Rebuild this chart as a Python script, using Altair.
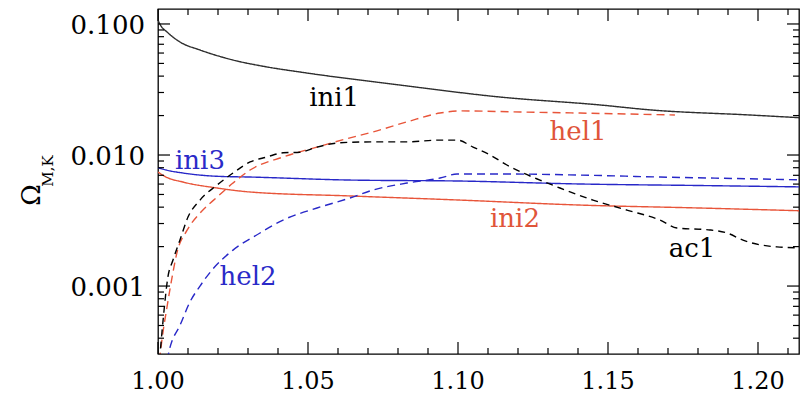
import altair as alt
import pandas as pd

# ---------------- data ----------------
x_ini1 = [1.000, 1.001, 1.003, 1.0073, 1.014, 1.025, 1.0363, 1.0473, 1.0807, 1.114, 1.1473, 1.164, 1.1973, 1.2167]
y_ini1 = [0.107, 0.0965, 0.0869, 0.0729, 0.0633, 0.0531, 0.0470, 0.0430, 0.0342, 0.0277, 0.0241, 0.0221, 0.0202, 0.0191]

x_ini23 = [1.000, 1.0027, 1.0083, 1.0197, 1.0307, 1.064, 1.1007, 1.1407, 1.1807, 1.2167]
y_ini2 = [0.00741, 0.00679, 0.00622, 0.00560, 0.00522, 0.00487, 0.00453, 0.00415, 0.00394, 0.00374]
y_ini3 = [0.0080, 0.00768, 0.00729, 0.00688, 0.00679, 0.00644, 0.00633, 0.00601, 0.00585, 0.00570]

x_hel1 = [1.0005, 1.0013, 1.003, 1.0047, 1.0063, 1.0097, 1.014, 1.0197, 1.025, 1.0307, 1.0417, 1.053,
          1.0623, 1.0717, 1.083, 1.094, 1.1007, 1.1207, 1.1407, 1.1723]
y_hel1 = [0.00027, 0.000387, 0.000692, 0.00117, 0.00179, 0.00267, 0.00360, 0.00478, 0.00611, 0.00768, 0.00966,
          0.0115, 0.0132, 0.0150, 0.0179, 0.0209, 0.0217, 0.0213, 0.0209, 0.0202]

x_ac1 = [1.0005, 1.0017, 1.0033, 1.005, 1.0073, 1.01, 1.014, 1.0197, 1.025, 1.0307, 1.0363, 1.0417, 1.0473,
         1.053, 1.0607, 1.0717, 1.083, 1.094, 1.0997, 1.105, 1.1107, 1.1163, 1.1217, 1.1273, 1.134, 1.145,
         1.1563, 1.1673, 1.173, 1.184, 1.1897, 1.195, 1.2063, 1.2167]
y_ac1 = [0.00027, 0.000550, 0.00117, 0.00158, 0.00224, 0.00336, 0.00453, 0.00590, 0.00729, 0.00885, 0.00966,
         0.0104, 0.0105, 0.0115, 0.0124, 0.0126, 0.0126, 0.0130, 0.0130, 0.0115, 0.0100, 0.00839, 0.00729,
         0.00644, 0.00560, 0.00453, 0.00380, 0.00319, 0.00277, 0.00268, 0.00254, 0.00224, 0.00199, 0.00195]

x_hel2 = [1.0030, 1.004, 1.0073, 1.0107, 1.014, 1.0183, 1.025, 1.034, 1.0417, 1.053, 1.064, 1.0717, 1.083,
          1.094, 1.0997, 1.1163, 1.1407, 1.1673, 1.2007, 1.2167]
y_hel2 = [0.00027, 0.00034, 0.00050, 0.00076, 0.00100, 0.00135, 0.00188, 0.00254, 0.00319, 0.00394, 0.00470,
          0.00541, 0.00611, 0.00667, 0.00716, 0.00716, 0.00703, 0.00679, 0.00656, 0.00644]

series_names = ["ini1", "ini2", "ini3", "hel1", "hel2", "ac1"]
series_colors = ["#2e2e2e", "#e8553a", "#2828c8", "#e8553a", "#2828c8", "#000000"]
series_dash = [[1, 0], [1, 0], [1, 0], [8, 5], [8, 5], [7, 5]]

label_text = ["ini1", "hel1", "ini3", "ini2", "ac1", "hel2"]
label_x = [1.0587, 1.1400, 1.0140, 1.1190, 1.1780, 1.0300]
label_y = [0.0272, 0.0150, 0.0090, 0.00324, 0.00191, 0.00117]
label_color = ["#000000", "#e0553a", "#2a2ac8", "#e0553a", "#000000", "#2a2ac8"]

x_major = [1.00, 1.05, 1.10, 1.15, 1.20]
x_major_text = ["1.00", "1.05", "1.10", "1.15", "1.20"]
x_minor = [1.01, 1.02, 1.03, 1.04, 1.06, 1.07, 1.08, 1.09, 1.11, 1.12, 1.13, 1.14, 1.16, 1.17, 1.18, 1.19, 1.21]
y_major = [0.1, 0.01, 0.001]
y_major_text = ["0.100", "0.010", "0.001"]
y_minor = [0.0004, 0.0005, 0.0006, 0.0007, 0.0008, 0.0009,
           0.002, 0.003, 0.004, 0.005, 0.006, 0.007, 0.008, 0.009,
           0.02, 0.03, 0.04, 0.05, 0.06, 0.07, 0.08, 0.09]

# ---------------- layout ----------------
W, H = 641, 345
FONT = "DejaVu Serif"

xs = alt.Scale(domain=[1.0, 1.0 + W / 3000.0], nice=False, zero=False)
ys = alt.Scale(type="log", domain=[0.000303, 0.1301], nice=False)

rows = []
for name, xv, yv in [("ini1", x_ini1, y_ini1), ("ini2", x_ini23, y_ini2), ("ini3", x_ini23, y_ini3),
                     ("hel1", x_hel1, y_hel1), ("hel2", x_hel2, y_hel2), ("ac1", x_ac1, y_ac1)]:
    for i, (a, b) in enumerate(zip(xv, yv)):
        rows.append({"series": name, "x": a, "y": b, "i": i})
df = pd.DataFrame(rows)

lines = alt.Chart(df).mark_line(clip=True, strokeWidth=1.4, interpolate="monotone").encode(
    x=alt.X("x:Q", scale=xs, axis=None),
    y=alt.Y("y:Q", scale=ys, axis=None),
    color=alt.Color("series:N", scale=alt.Scale(domain=series_names, range=series_colors), legend=None),
    strokeDash=alt.StrokeDash("series:N", scale=alt.Scale(domain=series_names, range=series_dash), legend=None),
    order="i:Q",
)

labels = alt.Chart(pd.DataFrame({"t": label_text, "x": label_x, "y": label_y, "c": label_color})).mark_text(
    font=FONT, fontSize=26, align="center", baseline="middle"
).encode(
    x=alt.X("x:Q", scale=xs, axis=None),
    y=alt.Y("y:Q", scale=ys, axis=None),
    text="t:N",
    color=alt.Color("c:N", scale=None),
)

xlab = alt.Chart(pd.DataFrame({"v": x_major, "t": x_major_text})).mark_text(
    font=FONT, fontSize=24, align="center", baseline="middle", color="black"
).encode(x=alt.X("v:Q", scale=xs, axis=None), y=alt.value(H + 28), text="t:N")

ylab = alt.Chart(pd.DataFrame({"v": y_major, "t": y_major_text})).mark_text(
    font=FONT, fontSize=26, align="right", baseline="middle", color="black", dy=2
).encode(y=alt.Y("v:Q", scale=ys, axis=None), x=alt.value(-13), text="t:N")


def xticks(vals, length):
    d = pd.DataFrame({"t": vals})
    bot = alt.Chart(d).mark_rule(color="black", strokeWidth=1.2).encode(
        x=alt.X("t:Q", scale=xs, axis=None), y=alt.value(H), y2=alt.value(H - length))
    top = alt.Chart(d).mark_rule(color="black", strokeWidth=1.2).encode(
        x=alt.X("t:Q", scale=xs, axis=None), y=alt.value(0), y2=alt.value(length))
    return [bot, top]


def yticks(vals, length):
    d = pd.DataFrame({"t": vals})
    left = alt.Chart(d).mark_rule(color="black", strokeWidth=1.2).encode(
        y=alt.Y("t:Q", scale=ys, axis=None), x=alt.value(0), x2=alt.value(length))
    right = alt.Chart(d).mark_rule(color="black", strokeWidth=1.2).encode(
        y=alt.Y("t:Q", scale=ys, axis=None), x=alt.value(W), x2=alt.value(W - length))
    return [left, right]


omega = alt.Chart(pd.DataFrame({"t": ["Ω"]})).mark_text(
    font=FONT, fontSize=26, angle=270, align="center", baseline="middle", color="black"
).encode(text="t:N", x=alt.value(-126), y=alt.value(186))

sub = alt.Chart(pd.DataFrame({"t": ["M,K"]})).mark_text(
    font=FONT, fontSize=15, angle=270, align="center", baseline="middle", color="black"
).encode(text="t:N", x=alt.value(-110), y=alt.value(162))

layers = ([lines, labels, xlab, ylab] + xticks(x_major, 12) + xticks(x_minor, 6)
          + yticks(y_major, 12) + yticks(y_minor, 6) + [omega, sub])

chart = alt.layer(*layers).properties(
    width=W, height=H,
    autosize=alt.AutoSizeParams(type="none"),
    padding={"left": 150, "top": 1, "right": 1, "bottom": 40},
).configure_view(
    stroke="black", strokeWidth=1.3
)

chart.save("out.html", embed_options={"renderer": "svg", "actions": False})
